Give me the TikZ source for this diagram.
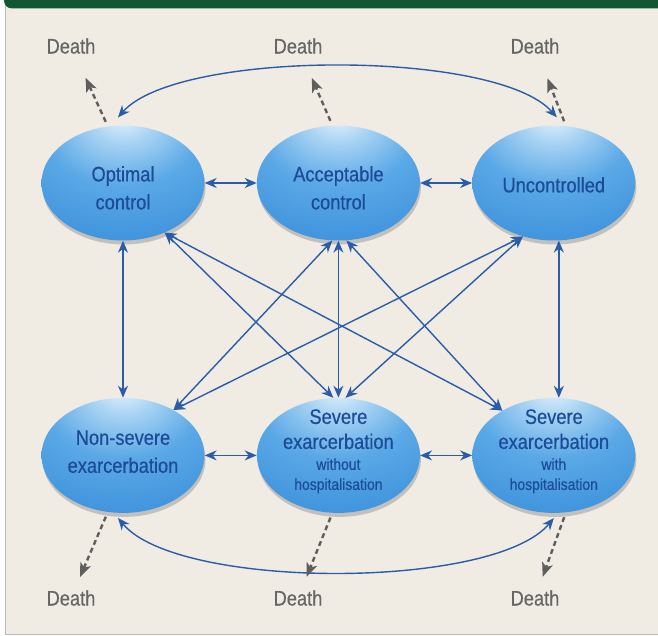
\documentclass[tikz,border=0pt]{standalone}
\usepackage{fontspec}
\setmainfont[FakeStretch=0.87,FakeBold=0.5]{Liberation Sans}
\usetikzlibrary{positioning,shapes.geometric,shadows,arrows.meta}

\definecolor{bgbeige}{HTML}{F0ECE3}
\definecolor{bargreen}{HTML}{135632}
\definecolor{linkblue}{HTML}{2A5CAA}
\definecolor{labelblue}{HTML}{1D4C97}
\definecolor{deathgray}{HTML}{666666}
\definecolor{deadline}{HTML}{5E5E5E}
\definecolor{bubA}{HTML}{EAF5FD}
\definecolor{bubB}{HTML}{A6D2F3}
\definecolor{bubC}{HTML}{5AA8E6}
\definecolor{bubD}{HTML}{3D92DC}
\definecolor{bubE}{HTML}{2F7BCA}
\definecolor{bubF}{HTML}{1D5CA6}

\pgfdeclareradialshading{bubble}{\pgfpoint{0bp}{30bp}}{color(0bp)=(bubA); color(10bp)=(bubB); color(24bp)=(bubC); color(45bp)=(bubD); color(68bp)=(bubE); color(80bp)=(bubF); color(100bp)=(bubF)}

\newcommand{\smalltxt}[1]{{\fontsize{16}{19}\selectfont #1}}

\begin{document}
\begin{tikzpicture}[
  x=1pt, y=-1pt,
  font=\fontsize{21}{28}\selectfont,
  state/.style={ellipse, minimum width=163pt, minimum height=115pt, inner sep=0pt,
    align=center, text=labelblue, shade, shading=bubble,
    drop shadow={shadow xshift=1pt, shadow yshift=-4pt, opacity=0.4}},
  death/.style={text=deathgray, inner sep=2pt},
  link/.style={>={Stealth[length=12pt,width=10pt]}, <->, line width=1.4pt, draw=linkblue},
  dead/.style={>={Stealth[length=14pt,width=11pt,inset=3.5pt]}, ->, line width=2.4pt,
    draw=deadline, dash pattern=on 5pt off 3.5pt}
]
\useasboundingbox (0,0) rectangle (658,636);
\fill[white] (0,0) rectangle (658,636);
\fill[bgbeige] (5,0) rectangle (658,635);
\draw[gray!55, line width=1.2pt] (5.5,0) -- (5.5,634.5) -- (658,634.5);
\fill[bargreen, rounded corners=8pt] (4,-12) rectangle (672,8.5);

% states
\node[state, text height=53pt] (opt) at (123,183) {Optimal\\control};
\node[state, text height=53pt, right=52pt of opt] (acc) {Acceptable\\control};
\node[state, text height=19pt, right=52pt of acc] (unc) {Uncontrolled};
\node[state, text height=35pt, below=157pt of opt] (ns) {Non-severe\\exarcerbation};
\node[state, text height=73pt, text depth=4pt, below=157pt of acc] (sw) {Severe\\[-3pt]exarcerbation\\[-7pt]\smalltxt{without}\\[-8pt]\smalltxt{hospitalisation}};
\node[state, text height=73pt, text depth=4pt, below=157pt of unc] (sh) {Severe\\[-3pt]exarcerbation\\[-7pt]\smalltxt{with}\\[-8pt]\smalltxt{hospitalisation}};

\node[death] (dt1) at (71,46) {Death};
\node[death] (dt2) at (298,46) {Death};
\node[death] (dt3) at (535,46) {Death};
\node[death] (db1) at (71,598) {Death};
\node[death] (db2) at (298,598) {Death};
\node[death] (db3) at (535,598) {Death};

% transitions
\draw[link] (opt) -- (acc);
\draw[link] (acc) -- (unc);
\draw[link] (ns) -- (sw);
\draw[link] (sw) -- (sh);
\draw[link] (opt) -- (ns);
\draw[link] (acc) -- (sw);
\draw[link] (unc.-85) -- (sh.85);
\draw[link] (opt.-50) -- (sw.95);
\draw[link] (opt.-50) -- (sh.139);
\draw[link] (acc.-96) -- (ns.42);
\draw[link] (acc.-82) -- (sh.139);
\draw[link] (unc.-120) -- (ns.42);
\draw[link] (unc.-120) -- (sw.83);
\draw[link] ([yshift=8pt]opt.95) .. controls +(60,-68) and +(-60,-68) .. ([yshift=8pt]unc.87);
\draw[link] ([yshift=-5pt]ns.-95) .. controls +(60,72) and +(-60,72) .. ([yshift=-5pt]sh.-90);

% deaths
\draw[dead, shorten <=5pt, shorten >=24pt] (opt.105) -- (dt1);
\draw[dead, shorten <=5pt, shorten >=24pt] (acc.96) -- (dt2);
\draw[dead, shorten <=5pt, shorten >=24pt] (unc.78) -- (dt3);
\draw[dead, shorten <=5pt, shorten >=12pt] (ns.-105) -- (db1);
\draw[dead, shorten <=5pt, shorten >=12pt] (sw.-96) -- (db2);
\draw[dead, shorten <=5pt, shorten >=12pt] (sh.-78) -- (db3);
\end{tikzpicture}
\end{document}
